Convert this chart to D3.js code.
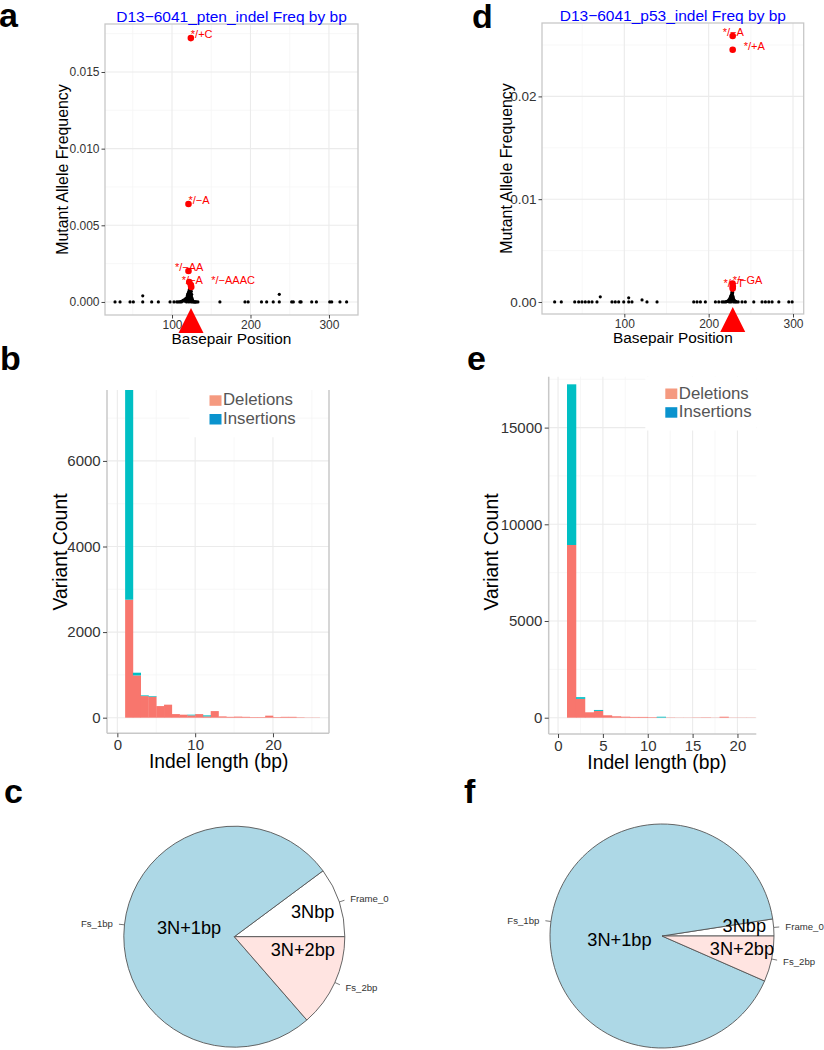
<!DOCTYPE html>
<html><head><meta charset="utf-8">
<script src="https://cdn.jsdelivr.net/npm/d3@7"></script>
<style>body{margin:0;background:#fff} svg{display:block} text{font-family:"Liberation Sans",Arial,sans-serif}</style>
</head><body>
<svg id="c" width="824" height="1050"></svg>
<script>
// ================= DATA =================
// Panel a: PTEN indel frequency by basepair position  [position, frequency]
const ptenBackground = [[27.4,0],[33.8,0],[46.5,0],[50.7,0],[62.7,0],[62.7,0.0004],[74.1,0],[82.6,0],[97.5,0],[102.5,0],[106,0],[108,0],[110,0],[111,0.00003],[112,0],[113,0.00005],[114,0.0001],[115,0.0001],[116,0.00015],[117,0.0002],[118,0.0002],[119,0.0003],[119.5,0.0004],[120,0.0005],[120.5,0.00055],[121,0.0006],[121.5,0.0007],[122,0.0008],[122.5,0.0009],[123,0.001],[123.5,0.0008],[124,0.0006],[124.5,0.0004],[125,0.0003],[125.5,0.0002],[126,0.0001],[127,0.00005],[128,0],[129,0],[130,0],[131,0],[133,0],[161,0],[193,0],[197,0],[214,0],[220.6,0],[229,0],[236.7,0],[236.7,0.0005],[252.5,0],[254.6,0],[263,0],[264.5,0],[278,0],[284,0],[301,0],[303.5,0],[314,0],[322.5,0]];
const ptenClusterExtra = [[116,0.00005],[117,0.0001],[118,0.0001],[119,0.0001],[119,0.0002],[120,0.0001],[120,0.0002],[120,0.0003],[121,0.0001],[121,0.0002],[121,0.0003],[121,0.0004],[122,0.0001],[122,0.0003],[122,0.0005],[122,0.0006],[123,0.0002],[123,0.0004],[123,0.0006],[123,0.0008],[124,0.0002],[124,0.0004],[124,0.0008],[124,0.0009],[125,0.0001],[125,0.0005],[126,0.00015],[123.5,0.0009],[124.5,0.0007],[122.5,0.0007],[118.5,0],[121.5,0],[124.5,0],[126.5,0]];
const ptenCalled = [[124,0.01721],[121,0.00639],[121,0.00202],[122,0.0013],[124,0.0011],[124.5,0.00098]];
const ptenCalledLabels = ["*/+C","*/−A","*/−AA","","*/−A","*/−AAAC"];
const ptenCutSite = 124.2;
const ptenTitle = "D13−6041_pten_indel Freq by bp";
const ptenXTicks = [100,200,300];
const ptenYTicks = [0,0.005,0.010,0.015];

// Panel d: p53 indel frequency by basepair position
const p53Background = [[17.4,0],[25.3,0],[41.2,0],[45.9,0],[49.8,0],[53.7,0],[57.8,0],[61.7,0],[67.6,0],[71.5,0.0005],[85.4,0],[89.3,0],[93.3,0],[99.3,0],[105.2,0.0004],[105.2,0],[109.1,0],[121,0.0002],[126.9,0],[138.8,0],[182.3,0],[186.2,0],[190.2,0],[196.1,0],[208,0],[212,0],[215.9,0],[218,0],[220,0],[221,0.00003],[222,0.00005],[223,0.0001],[224,0.0002],[225,0.0003],[225.5,0.0004],[226,0.0005],[226.5,0.0006],[227,0.0007],[227.5,0.0009],[228,0.0008],[228.5,0.0006],[229,0.0004],[229.5,0.0003],[230,0.0002],[231,0.0001],[232,0.00005],[233,0],[235,0],[239.6,0],[243.5,0],[253.5,0],[263.3,0],[267.3,0],[271.3,0],[275.2,0],[283.2,0],[295,0],[299,0]];
const p53ClusterExtra = [[224,0.0001],[225,0.0001],[225,0.0002],[226,0.0001],[226,0.0003],[227,0.0002],[227,0.0004],[227,0.0005],[228,0.0002],[228,0.0004],[228,0.001],[228.5,0.0009],[229,0.0002],[229,0.0005],[230,0.0001],[227.8,0.0007],[226.8,0.0006],[224.5,0],[226.5,0],[229.5,0],[231.5,0]];
const p53Called = [[228.5,0.02588],[228.5,0.02454],[228.3,0.0018],[228.6,0.0015],[228.5,0.0013]];
const p53CalledLabels = ["*/−A","*/+A","*/−T","*/−GA",""];
const p53CutSite = 228.6;
const p53Title = "D13−6041_p53_indel Freq by bp";
const p53XTicks = [100,200,300];
const p53YTicks = [0,0.01,0.02];

// Panels b, e: indel length histograms (bin start, count)
const ptenLengths = [1,2,3,4,5,6,7,8,9,10,11,12,13,14,15,16,17,18,19,20,21,22,23,24,25];
const ptenDeletions = [2757,988,505,490,271,304,84,70,54,84,30,154,30,20,25,20,14,14,47,14,20,20,10,5,5];
const ptenInsertions = [4950,63,16,15,0,0,0,0,16,0,24,0,0,0,0,0,0,0,0,0,0,0,0,0,0];
const ptenHistXTicks = [0,10,20];
const ptenHistYTicks = [0,2000,4000,6000];

const p53Lengths = [1,2,3,4,5,6,7,8,9,10,11,12,13,14,15,16,17,18,19,20,21];
const p53Deletions = [8930,974,280,350,125,73,52,40,40,30,5,15,10,10,15,20,10,50,10,10,10];
const p53Insertions = [8308,88,0,50,0,0,0,0,0,0,45,0,0,0,0,0,0,0,0,0,0];
const p53HistXTicks = [0,5,10,15,20];
const p53HistYTicks = [0,5000,10000,15000];
const histSeries = ["Deletions","Insertions"];

// Panels c, f: frame pie charts
const frameCategories = ["Frame_0","Fs_1bp","Fs_2bp"];
const frameInnerLabels = ["3Nbp","3N+1bp","3N+2bp"];
const ptenFrameShare = [0.1017,0.7623,0.136];
const p53FrameShare = [0.0244,0.9098,0.0658];

// ================= STYLE / LAYOUT =================
const svg = d3.select("#c");
const pieFill = ["#FFFFFF","#ADD8E6","#FFE4E1"];
const barFill = ["#F8766D","#00BFC4"];
const legendFill = ["#F59A80","#0A93CE"];
const gridMajor = "#ebebeb", gridMinor = "#f5f5f5", borderCol = "#c8c8c8";

function label(txt, x, y, size, opts={}) {
  const t = svg.append("text").attr("x",x).attr("y",y).attr("font-size",size).text(txt);
  if (opts.weight) t.attr("font-weight",opts.weight);
  if (opts.fill) t.attr("fill",opts.fill);
  if (opts.anchor) t.attr("text-anchor",opts.anchor);
  if (opts.rotate) t.attr("transform",`rotate(-90,${x},${y})`);
  if (opts.baseline) t.attr("dominant-baseline",opts.baseline);
  return t;
}

function styleAxis(a, fs) {
  a.select(".domain").remove();
  a.selectAll(".tick line").attr("stroke","#444").attr("stroke-width",1);
  a.selectAll(".tick text").attr("fill","#333").attr("font-size",fs).attr("font-family","Liberation Sans, Arial, sans-serif");
}

function midpoints(t){ const m=[]; for(let i=0;i<t.length-1;i++) m.push((t[i]+t[i+1])/2); return m; }

// ---- scatter panels ----
function scatterPanel(o) {
  const x = d3.scaleLinear().domain(o.xDomain).range([o.left,o.right]);
  const y = d3.scaleLinear().domain(o.yDomain).range([o.bottom,o.top]);
  const g = svg.append("g");
  const xMinor = [o.xTicks[0]-(o.xTicks[1]-o.xTicks[0])/2, ...midpoints(o.xTicks), o.xTicks[o.xTicks.length-1]+(o.xTicks[1]-o.xTicks[0])/2].filter(v=>v>o.xDomain[0]&&v<o.xDomain[1]);
  const yMinor = [...midpoints(o.yTicks), o.yTicks[o.yTicks.length-1]+(o.yTicks[1]-o.yTicks[0])/2].filter(v=>v<o.yDomain[1]);
  g.selectAll(".xm").data(xMinor).join("line").attr("x1",d=>x(d)).attr("x2",d=>x(d)).attr("y1",o.top).attr("y2",o.bottom).attr("stroke",gridMinor).attr("stroke-width",0.8);
  g.selectAll(".ym").data(yMinor).join("line").attr("y1",d=>y(d)).attr("y2",d=>y(d)).attr("x1",o.left).attr("x2",o.right).attr("stroke",gridMinor).attr("stroke-width",0.8);
  g.selectAll(".xM").data(o.xTicks).join("line").attr("x1",d=>x(d)).attr("x2",d=>x(d)).attr("y1",o.top).attr("y2",o.bottom).attr("stroke",gridMajor).attr("stroke-width",1.1);
  g.selectAll(".yM").data(o.yTicks).join("line").attr("y1",d=>y(d)).attr("y2",d=>y(d)).attr("x1",o.left).attr("x2",o.right).attr("stroke",gridMajor).attr("stroke-width",1.1);
  // points
  g.selectAll(".bg").data(o.bg).join("circle").attr("cx",d=>x(d[0])).attr("cy",d=>y(d[1])).attr("r",1.6).attr("fill","#000");
  g.selectAll(".cl").data(o.called).join("circle").attr("cx",d=>x(d[0])).attr("cy",d=>y(d[1])).attr("r",3.3).attr("fill","#FF0000");
  g.selectAll(".lab").data(o.called).join("text")
    .attr("x",(d,i)=>x(d[0])+o.nudge[i][0]).attr("y",(d,i)=>y(d[1])+o.nudge[i][1])
    .attr("font-size",11).attr("fill","#FF0000").text((d,i)=>o.labels[i]);
  // border
  g.append("rect").attr("x",o.left).attr("y",o.top).attr("width",o.right-o.left).attr("height",o.bottom-o.top).attr("fill","none").attr("stroke",borderCol).attr("stroke-width",1.3);
  const ay = g.append("g").attr("transform",`translate(${o.left},0)`).call(d3.axisLeft(y).tickValues(o.yTicks).tickFormat(d3.format(o.yFmt)).tickSize(3.5).tickPadding(2));
  styleAxis(ay,o.yFs);
  const ax = g.append("g").attr("transform",`translate(0,${o.bottom})`).call(d3.axisBottom(x).tickValues(o.xTicks).tickFormat(d3.format("d")).tickSize(3.5).tickPadding(1.5));
  styleAxis(ax,12);
  // cut site triangle
  const cx = x(o.cut);
  g.append("path").attr("d",`M${cx},${o.bottom-7}L${cx+12.5},${o.bottom+18}L${cx-12.5},${o.bottom+18}Z`).attr("fill","#FF0000");
  // titles
  label(o.title,(o.left+o.right)/2,o.top-1.7,15.5,{anchor:"middle",fill:"#0000FF"});
  label("Basepair Position",(o.left+o.right)/2,o.bottom+29,15.4,{anchor:"middle"});
  label("Mutant Allele Frequency",o.yLabX,(o.top+o.bottom)/2,15.9,{anchor:"middle",rotate:true,baseline:"central"});
}

scatterPanel({left:105,right:358,top:24,bottom:315,xDomain:[14.6,337],yDomain:[-0.00085,0.01813],
  xTicks:ptenXTicks,yTicks:ptenYTicks,yFmt:".3f",yFs:12,bg:ptenBackground.concat(ptenClusterExtra),called:ptenCalled,labels:ptenCalledLabels,
  nudge:[[0,0],[0,0],[-13.5,0],[0,0],[-9,-1],[20,-2.7]],cut:ptenCutSite,title:ptenTitle,yLabX:62});
scatterPanel({left:542,right:803.7,top:23,bottom:314,xDomain:[2.4,312.7],yDomain:[-0.00117,0.02714],
  xTicks:p53XTicks,yTicks:p53YTicks,yFmt:".2f",yFs:13.5,bg:p53Background.concat(p53ClusterExtra),called:p53Called,labels:p53CalledLabels,
  nudge:[[-10,0],[11,0],[-9,4],[0,-2.5],[0,0]],cut:p53CutSite,title:p53Title,yLabX:506});

// ---- histogram panels ----
function histPanel(o) {
  const x = d3.scaleLinear().domain(o.xDomain).range([o.left,o.right]);
  const y = d3.scaleLinear().domain(o.yDomain).range([o.bottom,o.top]);
  const g = svg.append("g");
  const step = o.xTicks[1]-o.xTicks[0];
  const xMinor = [...midpoints(o.xTicks), o.xTicks[o.xTicks.length-1]+step/2].filter(v=>v<o.xDomain[1]);
  const ystep = o.yTicks[1]-o.yTicks[0];
  const yMinor = [...midpoints(o.yTicks), o.yTicks[o.yTicks.length-1]+ystep/2].filter(v=>v<o.yDomain[1]);
  g.selectAll(".xm").data(xMinor).join("line").attr("x1",d=>x(d)).attr("x2",d=>x(d)).attr("y1",o.top).attr("y2",o.bottom).attr("stroke",gridMinor).attr("stroke-width",0.8);
  g.selectAll(".ym").data(yMinor).join("line").attr("y1",d=>y(d)).attr("y2",d=>y(d)).attr("x1",o.left).attr("x2",o.right).attr("stroke",gridMinor).attr("stroke-width",0.8);
  g.selectAll(".xM").data(o.xTicks).join("line").attr("x1",d=>x(d)).attr("x2",d=>x(d)).attr("y1",o.top).attr("y2",o.bottom).attr("stroke",gridMajor).attr("stroke-width",1.1);
  g.selectAll(".yM").data(o.yTicks).join("line").attr("y1",d=>y(d)).attr("y2",d=>y(d)).attr("x1",o.left).attr("x2",o.right).attr("stroke",gridMajor).attr("stroke-width",1.1);
  // legend background
  g.append("rect").attr("x",o.legX-20).attr("y",o.top).attr("width",o.legW).attr("height",o.legY+42-o.top).attr("fill","#fff");
  // bars
  const rows = o.lengths.map((L,i)=>({L,Deletions:o.del[i],Insertions:o.ins[i]}));
  const stacked = d3.stack().keys(histSeries)(rows);
  svg.append("clipPath").attr("id",o.id).append("rect").attr("x",o.left).attr("y",o.top).attr("width",o.right-o.left).attr("height",o.bottom-o.top);
  g.append("g").attr("clip-path",`url(#${o.id})`).selectAll("g").data(stacked).join("g").attr("fill",(d,i)=>barFill[i])
    .selectAll("rect").data(d=>d).join("rect")
    .attr("x",d=>x(d.data.L)).attr("width",d=>x(d.data.L+1)-x(d.data.L)+0.3)
    .attr("y",d=>y(d[1])).attr("height",d=>Math.max(0,y(d[0])-y(d[1])));
  // borders
  g.append("line").attr("x1",o.left).attr("x2",o.left).attr("y1",o.top).attr("y2",o.bottom).attr("stroke",borderCol).attr("stroke-width",1.5);
  g.append("line").attr("x1",o.left).attr("x2",o.right).attr("y1",o.bottom).attr("y2",o.bottom).attr("stroke",borderCol).attr("stroke-width",1.5);
  if (o.rightBorder) g.append("line").attr("x1",o.right).attr("x2",o.right).attr("y1",o.top).attr("y2",o.bottom).attr("stroke",borderCol).attr("stroke-width",1.5);
  const ay = g.append("g").attr("transform",`translate(${o.left},0)`).call(d3.axisLeft(y).tickValues(o.yTicks).tickFormat(d3.format("d")).tickSize(4).tickPadding(2.3));
  styleAxis(ay,15);
  const ax = g.append("g").attr("transform",`translate(0,${o.bottom})`).call(d3.axisBottom(x).tickValues(o.xTicks).tickFormat(d3.format("d")).tickSize(4).tickPadding(2.5));
  styleAxis(ax,15);
  // legend
  histSeries.forEach((s,i)=>{
    g.append("rect").attr("x",o.legX).attr("y",o.legY+i*18.7).attr("width",12).attr("height",10.5).attr("fill",legendFill[i]);
    label(s,o.legX+13.5,o.legY+i*18.7+10,16.8,{fill:"#555"});
  });
  label("Variant Count",o.yLabX,o.yLabY,19.4,{anchor:"middle",rotate:true,baseline:"central"});
  label("Indel length (bp)",(o.left+o.right)/2+o.xLabShift,o.xLabY,19.3,{anchor:"middle"});
}

histPanel({id:"clipb",left:107,right:329,top:390,bottom:733.3,xDomain:[-1.33,27.2],yDomain:[-365,7657],
  xTicks:ptenHistXTicks,yTicks:ptenHistYTicks,lengths:ptenLengths,del:ptenDeletions,ins:ptenInsertions,
  legX:209.5,legY:395.3,legW:100,rightBorder:true,yLabX:60,yLabY:552,xLabShift:0.7,xLabY:768});
histPanel({id:"clipe",left:548.7,right:756.3,top:376.7,bottom:734,xDomain:[-1.04,22.1],yDomain:[-843,17632],
  xTicks:p53HistXTicks,yTicks:p53HistYTicks,lengths:p53Lengths,del:p53Deletions,ins:p53Insertions,
  legX:665.3,legY:388.5,legW:111,rightBorder:false,yLabX:491,yLabY:552,xLabShift:4.5,xLabY:769});

// ---- pie panels ----
function piePanel(o) {
  const g = svg.append("g").attr("transform",`translate(${o.cx},${o.cy})`);
  const pie = d3.pie().sort(null).startAngle(Math.PI/2).endAngle(Math.PI/2-2*Math.PI);
  const arcs = pie(o.share);
  const arc = d3.arc().innerRadius(0).outerRadius(o.r);
  g.selectAll("path").data(arcs).join("path").attr("d",arc).attr("fill",(d,i)=>pieFill[i]).attr("stroke","#555").attr("stroke-width",0.9);
  arcs.forEach((a,i)=>{
    const m=(a.startAngle+a.endAngle)/2, sx=Math.sin(m), sy=-Math.cos(m);
    g.append("line").attr("x1",o.r*sx).attr("y1",o.r*sy).attr("x2",1.05*o.r*sx).attr("y2",1.05*o.r*sy).attr("stroke","#555").attr("stroke-width",0.8);
    g.append("text").attr("x",1.1*o.r*sx+(sx>=0?0.5:-0.5)).attr("y",1.1*o.r*sy).attr("dominant-baseline","central")
      .attr("text-anchor",sx>=0?"start":"end").attr("font-size",9.6).attr("fill","#333").text(frameCategories[i]);
    g.append("text").attr("x",o.inner[i][0]*o.r).attr("y",o.inner[i][1]*o.r).attr("dominant-baseline","central")
      .attr("text-anchor","middle").attr("font-size",18.2).attr("fill","#000").text(frameInnerLabels[i]);
  });
}
piePanel({cx:234.3,cy:936.7,r:110.5,share:ptenFrameShare,inner:[[0.71,-0.22],[-0.41,-0.08],[0.62,0.12]]});
piePanel({cx:662,cy:936,r:112,share:p53FrameShare,inner:[[0.735,-0.092],[-0.38,0.036],[0.714,0.119]]});

// ---- panel letters ----
[["a",-1,27],["b",0,370],["c",4,803],["d",472,28],["e",467,370],["f",464,803]].forEach(p=>label(p[0],p[1],p[2],34,{weight:"bold"}));
</script>
</body></html>
